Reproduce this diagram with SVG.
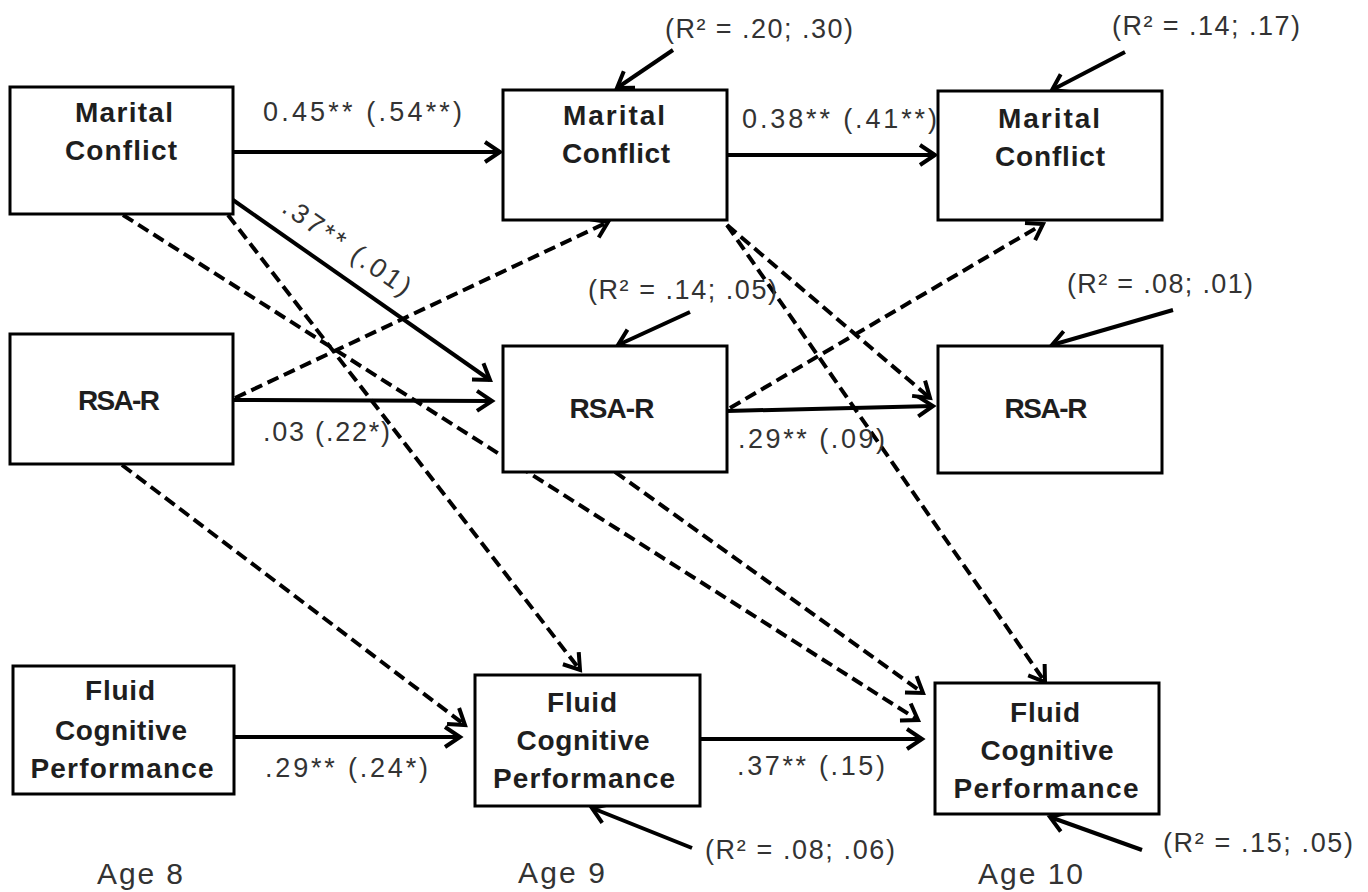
<svg xmlns="http://www.w3.org/2000/svg" width="1368" height="892" viewBox="0 0 1368 892">
<style>
.box{fill:#fff;stroke:#000;stroke-width:3}
.nt{font-family:"Liberation Sans",Arial,sans-serif;font-weight:bold;font-size:28px;fill:#1e1e1e;text-anchor:middle}
.lb{font-family:"Liberation Sans",Arial,sans-serif;font-size:27px;fill:#333}
.age{font-family:"Liberation Sans",Arial,sans-serif;font-size:30px;fill:#333}
.s{stroke:#000;stroke-width:4;fill:none;marker-end:url(#ah)}
.d{stroke:#000;stroke-width:4;fill:none;stroke-dasharray:12 6;marker-end:url(#ah)}
</style>
<defs>
<marker id="ah" markerUnits="userSpaceOnUse" markerWidth="26" markerHeight="26" viewBox="0 0 26 26" refX="22" refY="13" orient="auto">
<path d="M7,3 L22,13 L7,23" fill="none" stroke="#000" stroke-width="4"/>
</marker>
</defs>

<g id="connectors">
<line class="s" x1="233" y1="152" x2="500" y2="152"/>
<line class="s" x1="727" y1="155" x2="935" y2="155"/>
<line class="s" x1="233" y1="200" x2="490" y2="380"/>
<line class="s" x1="233" y1="400" x2="492" y2="401"/>
<line class="s" x1="727" y1="411" x2="933" y2="406"/>
<line class="s" x1="234" y1="737" x2="460" y2="737"/>
<line class="s" x1="700" y1="739" x2="922" y2="739"/>
<line class="s" x1="673" y1="50" x2="617" y2="88"/>
<line class="s" x1="1125" y1="52" x2="1052" y2="90"/>
<line class="s" x1="690" y1="312" x2="618" y2="345"/>
<line class="s" x1="1173" y1="310" x2="1052" y2="345"/>
<line class="s" x1="692" y1="848" x2="592" y2="808"/>
<line class="s" x1="1142" y1="850" x2="1050" y2="817"/>
<line class="d" x1="235" y1="398" x2="608" y2="222"/>
<line class="d" x1="730" y1="408" x2="1043" y2="224"/>
<line class="d" x1="228" y1="215" x2="580" y2="670"/>
<line class="d" x1="122" y1="465" x2="465" y2="725"/>
<line class="d" x1="123" y1="215" x2="918" y2="720"/>
<line class="d" x1="615" y1="472" x2="923" y2="693"/>
<line class="d" x1="727" y1="225" x2="930" y2="398"/>
<line class="d" x1="727" y1="225" x2="1045" y2="682"/>
</g>

<g id="mc8"><rect class="box" x="10" y="87" width="223" height="127"/>
<text class="nt" x="124" y="122" textLength="98">Marital</text>
<text class="nt" x="121" y="160" textLength="112">Conflict</text></g>
<g id="mc9"><rect class="box" x="503" y="90" width="224" height="130"/>
<text class="nt" x="614" y="125" textLength="102">Marital</text>
<text class="nt" x="616" y="163" textLength="108">Conflict</text></g>
<g id="mc10"><rect class="box" x="938" y="91" width="224" height="129"/>
<text class="nt" x="1049" y="128" textLength="102">Marital</text>
<text class="nt" x="1050" y="166" textLength="110">Conflict</text></g>

<g id="rsa8"><rect class="box" x="10" y="334" width="223" height="130"/>
<text class="nt" x="119" y="410" textLength="82">RSA-R</text></g>
<g id="rsa9"><rect class="box" x="503" y="346" width="224" height="126"/>
<text class="nt" x="612" y="418" textLength="85">RSA-R</text></g>
<g id="rsa10"><rect class="box" x="938" y="346" width="224" height="127"/>
<text class="nt" x="1046" y="418" textLength="83">RSA-R</text></g>

<g id="fcp8"><rect class="box" x="13" y="666" width="221" height="128"/>
<text class="nt" x="120" y="700" textLength="70">Fluid</text>
<text class="nt" x="121" y="740" textLength="132">Cognitive</text>
<text class="nt" x="122" y="778" textLength="183">Performance</text></g>
<g id="fcp9"><rect class="box" x="475" y="675" width="225" height="131"/>
<text class="nt" x="582" y="712" textLength="70">Fluid</text>
<text class="nt" x="583" y="750" textLength="133">Cognitive</text>
<text class="nt" x="584" y="788" textLength="182">Performance</text></g>
<g id="fcp10"><rect class="box" x="935" y="683" width="224" height="131"/>
<text class="nt" x="1045" y="722" textLength="70">Fluid</text>
<text class="nt" x="1047" y="760" textLength="133">Cognitive</text>
<text class="nt" x="1046" y="798" textLength="185">Performance</text></g>

<g id="labels">
<text class="lb" x="263" y="121" textLength="199">0.45** (.54**)</text>
<text class="lb" x="742" y="128" textLength="195">0.38** (.41**)</text>
<text class="lb" x="342" y="254" text-anchor="middle" transform="rotate(35 342 254)" textLength="150">.37** (.01)</text>
<text class="lb" x="263" y="441" textLength="127">.03 (.22*)</text>
<text class="lb" x="738" y="448" textLength="147">.29** (.09)</text>
<text class="lb" x="265" y="777" textLength="163">.29** (.24*)</text>
<text class="lb" x="737" y="775" textLength="148">.37** (.15)</text>
<text class="lb" x="665" y="38" textLength="188">(R² = .20; .30)</text>
<text class="lb" x="1112" y="35" textLength="188">(R² = .14; .17)</text>
<text class="lb" x="588" y="299" textLength="189">(R² = .14; .05)</text>
<text class="lb" x="1067" y="293" textLength="186">(R² = .08; .01)</text>
<text class="lb" x="705" y="859" textLength="190">(R² = .08; .06)</text>
<text class="lb" x="1163" y="852" textLength="190">(R² = .15; .05)</text>
<text class="age" x="97" y="884" textLength="86">Age 8</text>
<text class="age" x="518" y="883" textLength="87">Age 9</text>
<text class="age" x="978" y="884" textLength="105">Age 10</text>
</g>
</svg>
